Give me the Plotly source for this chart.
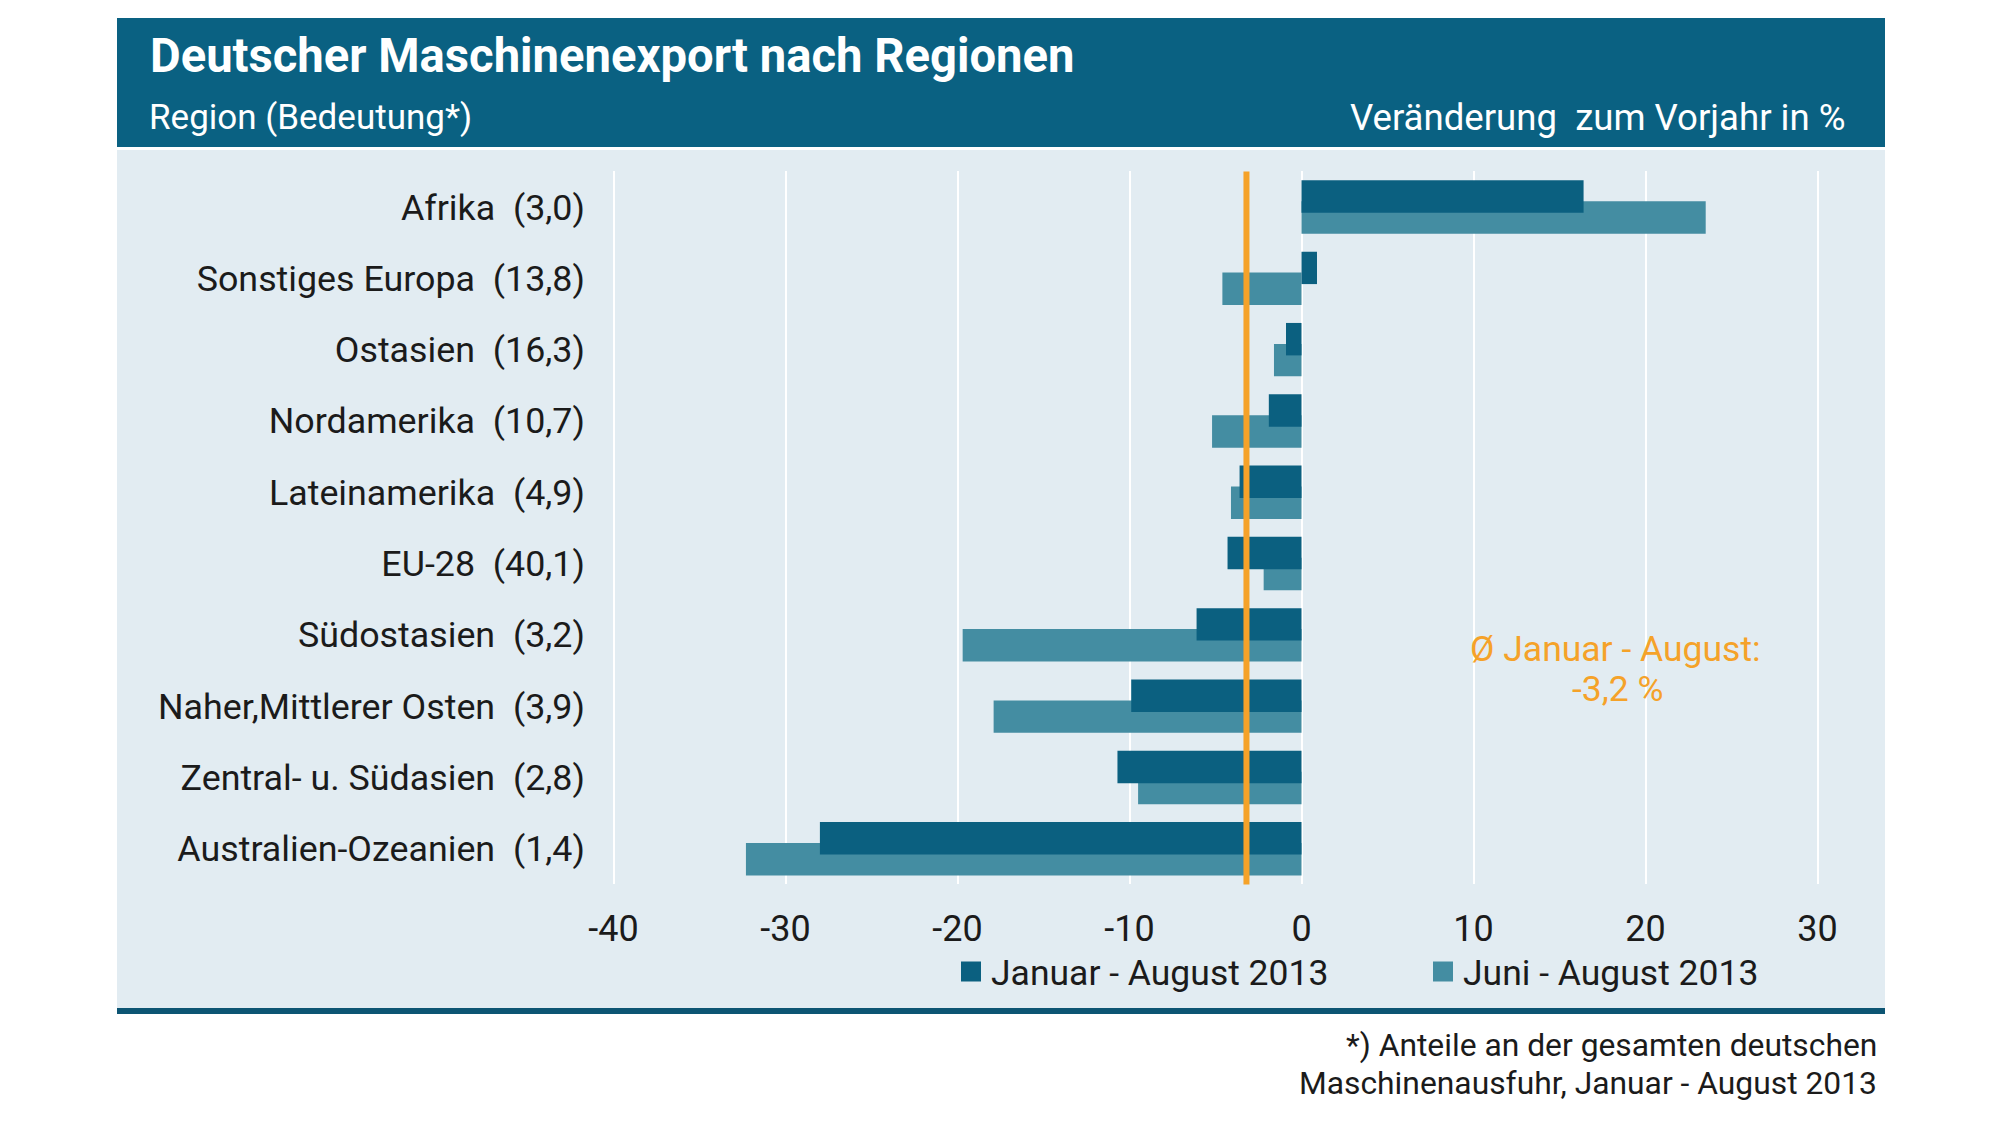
import plotly.graph_objects as go

# ---------------- data ----------------
regions = [
    "Afrika\u00a0 (3,0)",
    "Sonstiges Europa\u00a0 (13,8)",
    "Ostasien\u00a0 (16,3)",
    "Nordamerika\u00a0 (10,7)",
    "Lateinamerika\u00a0 (4,9)",
    "EU-28\u00a0 (40,1)",
    "Südostasien\u00a0 (3,2)",
    "Naher,Mittlerer Osten\u00a0 (3,9)",
    "Zentral- u. Südasien\u00a0 (2,8)",
    "Australien-Ozeanien\u00a0 (1,4)",
]
jan_aug = [16.4, 0.9, -0.9, -1.9, -3.6, -4.3, -6.1, -9.9, -10.7, -28.0]
jun_aug = [23.5, -4.6, -1.6, -5.2, -4.1, -2.2, -19.7, -17.9, -9.5, -32.3]
mean_jan_aug = -3.2
x_ticks = [-40, -30, -20, -10, 0, 10, 20, 30]
x_tick_labels = ["-40", "-30", "-20", "-10", "0", "10", "20", "30"]

series_names = ["Januar - August 2013", "Juni - August 2013"]

# ---------------- style ----------------
W, H = 2000, 1124
FONT = "Roboto, Open Sans, sans-serif"
DARK = "#0b6080"
LIGHT = "#448da2"
HEADER = "#0a6182"
PANEL = "#e2ecf2"
ORANGE = "#f5a229"
TEXT = "#1b1b1b"


def px(x):
    return x / W


def py(y):
    return 1 - y / H


fig = go.Figure()

bar_w = 0.455
shift = 0.147

fig.add_trace(go.Bar(
    y=regions, x=jun_aug, orientation="h", name=series_names[1],
    marker=dict(color=LIGHT, line=dict(width=0)),
    width=bar_w, offset=shift - bar_w / 2, showlegend=False,
))
fig.add_trace(go.Bar(
    y=regions, x=jan_aug, orientation="h", name=series_names[0],
    marker=dict(color=DARK, line=dict(width=0)),
    width=bar_w, offset=-shift - bar_w / 2, showlegend=False,
))
# legend entries (square swatches)
for nm, col in zip(series_names, [DARK, LIGHT]):
    fig.add_trace(go.Scatter(
        x=[None], y=[None], mode="markers", name=nm,
        marker=dict(symbol="square", size=20, color=col, line=dict(color=col, width=4)),
        showlegend=True,
    ))

shapes = [
    dict(type="rect", xref="paper", yref="paper", x0=px(117), x1=px(1885),
         y0=py(147), y1=py(18), fillcolor=HEADER, line=dict(width=0), layer="below"),
    dict(type="rect", xref="paper", yref="paper", x0=px(117), x1=px(1885),
         y0=py(1008), y1=py(150), fillcolor=PANEL, line=dict(width=0), layer="below"),
    dict(type="rect", xref="paper", yref="paper", x0=px(117), x1=px(1885),
         y0=py(1014), y1=py(1008), fillcolor="#0d5573", line=dict(width=0), layer="below"),
    dict(type="line", xref="x", yref="y", x0=mean_jan_aug, x1=mean_jan_aug,
         y0=-0.52, y1=9.56, line=dict(color=ORANGE, width=6), layer="above"),
]


def ann(text, x, y, anchor, size, color, bold=False):
    return dict(text=f"<b>{text}</b>" if bold else text, xref="paper", yref="paper",
                x=px(x), y=py(y), xanchor=anchor, yanchor="middle", showarrow=False,
                font=dict(family=FONT, size=size, color=color))


annotations = [
    ann("Deutscher Maschinenexport nach Regionen", 148, 56, "left", 47.2, "white", bold=True),
    ann("Region (Bedeutung*)", 147, 117, "left", 35, "white"),
    ann("Veränderung\u00a0 zum Vorjahr in %", 1848, 117, "right", 36.6, "white"),
    ann("Ø Januar - August:", 1615, 649, "center", 35.5, ORANGE),
    ann("-3,2 %", 1618, 689, "center", 35.5, ORANGE),
    ann("*) Anteile an der gesamten deutschen", 1879, 1045, "right", 31.8, TEXT),
    ann("Maschinenausfuhr, Januar - August 2013", 1879, 1083, "right", 31.8, TEXT),
]

fig.update_layout(
    width=W, height=H,
    margin=dict(l=0, r=0, t=0, b=0, pad=0, autoexpand=False),
    paper_bgcolor="white",
    plot_bgcolor="rgba(0,0,0,0)",
    barmode="overlay",
    shapes=shapes,
    annotations=annotations,
    font=dict(family=FONT, size=35, color=TEXT),
    showlegend=True,
    legend=dict(orientation="h", x=px(951), y=py(972), xanchor="left", yanchor="middle",
                bgcolor="rgba(0,0,0,0)", font=dict(family=FONT, size=35.5, color=TEXT),
                entrywidth=427, entrywidthmode="pixels", traceorder="normal",
                itemsizing="trace"),
    xaxis=dict(
        domain=[px(604.9), px(1826.1)], range=[-40.5, 30.5],
        tickvals=x_ticks, ticktext=x_tick_labels, automargin=False,
        showgrid=True, gridcolor="white", gridwidth=2, zeroline=False,
        showline=False, ticks="", ticklabelstandoff=20,
        tickfont=dict(family=FONT, size=36, color=TEXT),
    ),
    yaxis=dict(
        domain=[py(884.4), py(171.4)], autorange=False, range=[9.5, -0.5],
        type="category", categoryorder="array", categoryarray=regions,
        showgrid=False, zeroline=False, showline=False, ticks="", automargin=False,
        ticklabelstandoff=19,
        tickfont=dict(family=FONT, size=35.8, color=TEXT),
    ),
)

fig.write_html(
    "out.html",
    post_script="document.body.style.margin='0';document.body.style.overflow='hidden';",
)
